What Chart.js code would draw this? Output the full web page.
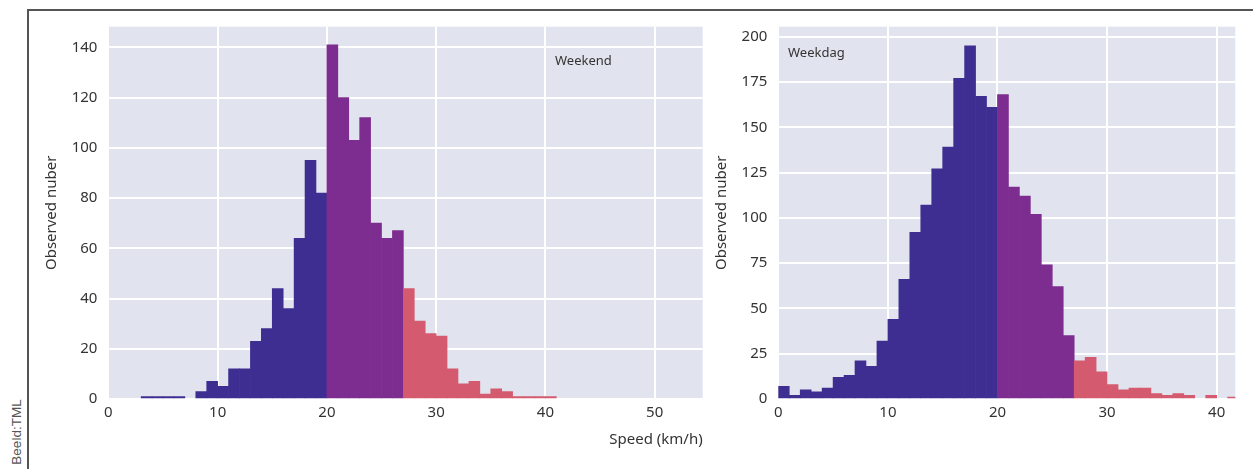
<!DOCTYPE html>
<html>
<head>
<meta charset="utf-8">
<script src="https://cdn.jsdelivr.net/npm/chart.js@4.4.1/dist/chart.umd.min.js"></script>
<style>
  body { margin: 0; background: #fff; width: 1253px; height: 469px; overflow: hidden; position: relative; font-family: "Noto Sans", sans-serif; }
  .frame { position: absolute; left: 27px; top: 9px; right: 0; bottom: 0; border-top: 2px solid #555; border-left: 2px solid #555; }
  .credit { position: absolute; left: 16px; top: 432px; transform: translate(-50%, -50%) rotate(-90deg); font-size: 13.5px; color: #555; white-space: nowrap; font-family: "Liberation Sans", sans-serif; }
  #weekend { position: absolute; left: 0; top: 0; }
  #weekday { position: absolute; left: 712px; top: 0; }
</style>
</head>
<body>
<div class="frame"></div>
<div class="credit">Beeld:TML</div>
<canvas id="weekend" width="712" height="469"></canvas>
<canvas id="weekday" width="541" height="469"></canvas>
<script>
// bin starts (km/h), each bin 1 km/h wide
const weekendBins = [0,1,2,3,4,5,6,7,8,9,10,11,12,13,14,15,16,17,18,19,20,21,22,23,24,25,26,27,28,29,30,31,32,33,34,35,36,37,38,39,40];
const weekendCounts = [0,0,0,1,1,1,1,0,3,7,5,12,12,23,28,44,36,64,95,82,141,120,103,112,70,64,67,44,31,26,25,12,6,7,2,4,3,1,1,1,1];

const weekdayBins = [0,1,2,3,4,5,6,7,8,9,10,11,12,13,14,15,16,17,18,19,20,21,22,23,24,25,26,27,28,29,30,31,32,33,34,35,36,37,38,39,40,41];
const weekdayCounts = [7,2,5,4,6,12,13,21,18,32,44,66,92,107,127,139,177,195,167,161,168,117,112,102,74,62,35,21,23,15,8,5,6,6,3,2,3,2,0,2,0,1];

const slowLimit = 20;
const fastLimit = 27;
const colors = { slow: '#3f2e91', mid: '#7d2d8f', fast: '#d45b6f' };

const xTitle = 'Speed (km/h)';
const yTitle = 'Observed nuber';

const fontFamily = '"Noto Sans", sans-serif';
const tickColor = '#333';

function binColor(start) {
  if (start < slowLimit) return colors.slow;
  if (start < fastLimit) return colors.mid;
  return colors.fast;
}

// grey panel behind the plot + the small panel label
const panelPlugin = {
  id: 'panel',
  beforeDraw(chart, args, opts) {
    const { ctx, chartArea: a } = chart;
    ctx.save();
    ctx.fillStyle = '#e1e4ee';
    ctx.fillRect(a.left, a.top, a.right - a.left, a.bottom - a.top);
    ctx.restore();
  },
  afterDatasetsDraw(chart, args, opts) {
    if (!opts.text) return;
    const ctx = chart.ctx;
    ctx.save();
    ctx.font = '13px ' + fontFamily;
    ctx.fillStyle = '#333';
    ctx.textBaseline = 'middle';
    ctx.fillText(opts.text, opts.x, opts.y);
    ctx.restore();
  }
};

function makeHist(id, bins, counts, cfg) {
  return new Chart(document.getElementById(id), {
    type: 'bar',
    data: {
      datasets: [{
        // empty bins are left out so no hairline is drawn on the baseline
        data: bins.map((b, i) => ({ x: b + 0.5, y: counts[i] === 0 ? null : counts[i] })),
        backgroundColor: bins.map(binColor),
        borderWidth: 0,
        barPercentage: 1,
        categoryPercentage: 1
      }]
    },
    plugins: [panelPlugin],
    options: {
      responsive: false,
      devicePixelRatio: 1,
      animation: false,
      layout: { padding: { top: 26.7, right: cfg.padRight, left: 0, bottom: 0 } },
      plugins: {
        legend: { display: false },
        tooltip: { enabled: false },
        panel: cfg.label
      },
      scales: {
        x: {
          type: 'linear',
          min: 0,
          max: cfg.xMax,
          offset: false,
          grid: { color: '#fff', lineWidth: 2, drawTicks: false, offset: false },
          border: { display: false },
          ticks: { stepSize: 10, includeBounds: false, padding: 5, color: tickColor, font: { family: fontFamily, size: 15 } },
          title: {
            display: cfg.showXTitle,
            text: xTitle,
            align: 'end',
            color: tickColor,
            font: { family: fontFamily, size: 15 },
            padding: { top: 0, bottom: 20 }
          },
          afterFit(scale) { scale.height = 70; }
        },
        y: {
          min: 0,
          max: cfg.yMax,
          grid: { color: '#fff', lineWidth: 2, drawTicks: false },
          border: { display: false },
          ticks: { stepSize: cfg.yStep, includeBounds: false, padding: 11, color: tickColor, font: { family: fontFamily, size: 15 } },
          title: {
            display: true,
            text: yTitle,
            color: tickColor,
            font: { family: fontFamily, size: 15 },
            padding: { top: cfg.yTitlePad, bottom: 0 }
          },
          afterFit(scale) { scale.width = cfg.yWidth; }
        }
      }
    }
  });
}

makeHist('weekend', weekendBins, weekendCounts, {
  xMax: 54.4, yMax: 148.2, yStep: 20, padRight: 9.3, yWidth: 108.4, yTitlePad: 43,
  showXTitle: true,
  label: { text: 'Weekend', x: 555, y: 61 }
});

makeHist('weekday', weekdayBins, weekdayCounts, {
  xMax: 41.7, yMax: 205.5, yStep: 25, padRight: 17.7, yWidth: 66.3, yTitlePad: 1,
  showXTitle: false,
  label: { text: 'Weekdag', x: 76, y: 53 }
});
</script>
</body>
</html>
